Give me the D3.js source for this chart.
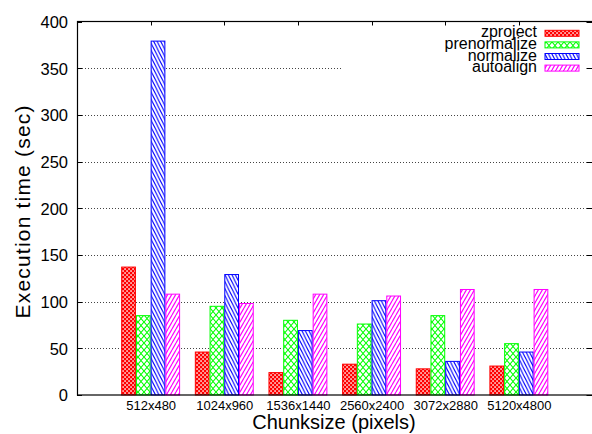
<!DOCTYPE html>
<html>
<head>
<meta charset="utf-8">
<script src="https://cdn.jsdelivr.net/npm/d3@7"></script>
<style>
  body { margin: 0; background: #fff; }
  text { font-family: "Liberation Sans", Arial, sans-serif; fill: #000; }
</style>
</head>
<body>
<div id="chart"></div>
<script>
// Chart data
var categories = ["512x480", "1024x960", "1536x1440", "2560x2400", "3072x2880", "5120x4800"];
var seriesNames = ["zproject", "prenormalize", "normalize", "autoalign"];
var zproject = [137, 46, 24, 33, 28, 31];
var prenormalize = [85, 95, 80, 76, 85, 55];
var normalize = [379, 129, 69, 101, 36, 46];
var autoalign = [108, 98, 108, 106, 113, 113];
var yTicks = [0, 50, 100, 150, 200, 250, 300, 350, 400];

var seriesValues = [zproject, prenormalize, normalize, autoalign];
var colors = ["#ff0000", "#00ff00", "#0000ff", "#ff00ff"];

var svgWidth = 592, svgHeight = 434;
var plot = { left: 77, right: 592.5, top: 21.5, bottom: 395 };

var svg = d3.select("#chart").append("svg")
  .attr("width", svgWidth)
  .attr("height", svgHeight);

// fill patterns, one per series
var defs = svg.append("defs");

var p0 = defs.append("pattern").attr("id", "pat0")
  .attr("patternUnits", "userSpaceOnUse").attr("width", 4).attr("height", 4);
p0.append("rect").attr("width", 4).attr("height", 4).attr("fill", colors[0]);
p0.append("rect").attr("x", 0.3).attr("y", 0.3).attr("width", 1.5).attr("height", 1.5).attr("fill", "#fff");
p0.append("rect").attr("x", 2.3).attr("y", 2.3).attr("width", 1.5).attr("height", 1.5).attr("fill", "#fff");

var p1 = defs.append("pattern").attr("id", "pat1")
  .attr("patternUnits", "userSpaceOnUse").attr("width", 6).attr("height", 7);
p1.append("rect").attr("width", 6).attr("height", 7).attr("fill", "#fff");
p1.append("path").attr("d", "M0,0L6,7M6,0L0,7")
  .attr("stroke", colors[1]).attr("stroke-width", 1.1).attr("fill", "none");

var p2 = defs.append("pattern").attr("id", "pat2")
  .attr("patternUnits", "userSpaceOnUse").attr("width", 3.5).attr("height", 7);
p2.append("rect").attr("width", 3.5).attr("height", 7).attr("fill", "#fff");
p2.append("path").attr("d", "M-3.5,0L3.5,14M0,-7L7,7M0,0L3.5,7")
  .attr("stroke", colors[2]).attr("stroke-width", 1.1).attr("fill", "none");

var p3 = defs.append("pattern").attr("id", "pat3")
  .attr("patternUnits", "userSpaceOnUse").attr("width", 4).attr("height", 7);
p3.append("rect").attr("width", 4).attr("height", 7).attr("fill", "#fff");
p3.append("path").attr("d", "M0,7L4,0M-4,7L0,0M4,7L8,0")
  .attr("stroke", colors[3]).attr("stroke-width", 1.2).attr("fill", "none");

// scales
var x = d3.scaleLinear().domain([-1, 6]).range([plot.left, plot.right]);
var y = d3.scaleLinear().domain([0, 400]).range([plot.bottom, plot.top]);

// grid lines (dotted); the 350 line stops short of the key
svg.append("g").selectAll("line")
  .data(yTicks.filter(d => d > 0 && d < 400))
  .enter().append("line")
  .attr("x1", plot.left + 5)
  .attr("x2", d => d === 350 ? 341 : plot.right - 6)
  .attr("y1", d => Math.round(y(d)) + 0.5)
  .attr("y2", d => Math.round(y(d)) + 0.5)
  .attr("stroke", "#444")
  .attr("stroke-width", 1)
  .attr("stroke-dasharray", "1,2");

// bars
var barW = x(0.2) - x(0);
seriesValues.forEach(function(vals, j) {
  svg.append("g").selectAll("rect")
    .data(vals)
    .enter().append("rect")
    .attr("x", (d, i) => x(i + (j - 2) * 0.2) + 0.5)
    .attr("y", d => y(d))
    .attr("width", barW - 1)
    .attr("height", d => y(0) - y(d))
    .attr("fill", "url(#pat" + j + ")")
    .attr("stroke", colors[j])
    .attr("stroke-width", 1);
});

// y axis
var leftAxis = d3.axisLeft(y).tickValues(yTicks).tickSize(0).tickPadding(9);
var gy = svg.append("g").attr("transform", `translate(${plot.left}, 0)`).call(leftAxis);
gy.select(".domain").remove();
gy.selectAll("text").style("font-size", "16.5px").attr("dy", "0.36em");

// tick marks on both sides
var tickG = svg.append("g").attr("stroke", "#000").attr("stroke-width", 1);
yTicks.forEach(function(t) {
  var yy = Math.round(y(t)) + 0.5;
  tickG.append("line").attr("x1", plot.left).attr("x2", plot.left + 5).attr("y1", yy).attr("y2", yy);
  tickG.append("line").attr("x1", plot.right - 6).attr("x2", plot.right).attr("y1", yy).attr("y2", yy);
});
categories.forEach(function(c, i) {
  var xx = Math.round(x(i)) + 0.5;
  tickG.append("line").attr("x1", xx).attr("x2", xx).attr("y1", plot.top).attr("y2", plot.top + 4);
});

// x axis labels
var bottomAxis = d3.axisBottom(x).tickValues(d3.range(categories.length))
  .tickFormat(i => categories[i]).tickSize(0).tickPadding(6);
var gx = svg.append("g").attr("transform", `translate(0, ${plot.bottom})`).call(bottomAxis);
gx.select(".domain").remove();
gx.selectAll("text").style("font-size", "13px");

// border
svg.append("rect")
  .attr("x", plot.left + 0.5).attr("y", plot.top)
  .attr("width", plot.right - plot.left).attr("height", plot.bottom - plot.top)
  .attr("fill", "none").attr("stroke", "#000").attr("stroke-width", 1.2);

// axis titles
svg.append("text")
  .attr("transform", "translate(30, 212) rotate(-90)")
  .attr("text-anchor", "middle")
  .style("font-size", "21px")
  .attr("textLength", 213)
  .text("Execution time (sec)");

svg.append("text")
  .attr("x", 334).attr("y", 429)
  .attr("text-anchor", "middle")
  .style("font-size", "20px")
  .text("Chunksize (pixels)");

// key
var key = svg.append("g");
seriesNames.forEach(function(name, j) {
  var cy = 33.3 + j * 11.6;
  key.append("text")
    .attr("x", 537).attr("y", cy + 4)
    .attr("text-anchor", "end")
    .style("font-size", "16px")
    .text(name);
  key.append("rect")
    .attr("x", 545).attr("y", cy - 3)
    .attr("width", 34).attr("height", 6)
    .attr("fill", "url(#pat" + j + ")")
    .attr("stroke", colors[j])
    .attr("stroke-width", 1);
});
</script>
</body>
</html>
